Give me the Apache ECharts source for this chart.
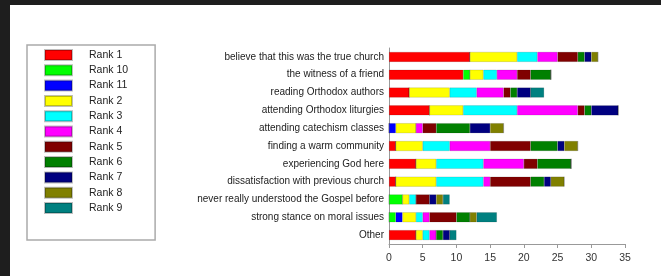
<!DOCTYPE html>
<html><head><meta charset="utf-8">
<script src="https://cdn.jsdelivr.net/npm/echarts@6/dist/echarts.min.js"></script>
<style>html,body{margin:0;padding:0;background:#fff}#c{width:661px;height:276px}</style>
</head><body><div id="c"></div>
<script>
const categories = [
  "believe that this was the true church",
  "the witness of a friend",
  "reading Orthodox authors",
  "attending Orthodox liturgies",
  "attending catechism classes",
  "finding a warm community",
  "experiencing God here",
  "dissatisfaction with previous church",
  "never really understood the Gospel before",
  "strong stance on moral issues",
  "Other"
];
const seriesNames = ["Rank 1","Rank 10","Rank 11","Rank 2","Rank 3","Rank 4","Rank 5","Rank 6","Rank 7","Rank 8","Rank 9"];
const seriesColors = ["#ff0000","#00ff00","#0000ff","#ffff00","#00ffff","#ff00ff","#800000","#008000","#000080","#808000","#008080"];
// values per category, in series order
const rank1  = [12,11,3,6,0,1,4,1,0,0,4];
const rank10 = [0,1,0,0,0,0,0,0,2,1,0];
const rank11 = [0,0,0,0,1,0,0,0,0,1,0];
const rank2  = [7,2,6,5,3,4,3,6,1,2,1];
const rank3  = [3,2,4,8,0,4,7,7,1,1,1];
const rank4  = [3,3,4,9,1,6,6,1,0,1,1];
const rank5  = [3,2,1,1,2,6,2,6,2,4,0];
const rank6  = [1,3,1,1,5,4,5,2,0,2,1];
const rank7  = [1,0,2,4,3,1,0,1,1,0,1];
const rank8  = [1,0,0,0,2,2,0,2,1,1,0];
const rank9  = [0,0,2,0,0,0,0,0,1,3,1];
const xTicks = {min:0, max:35, interval:5};

const allValues = [rank1,rank10,rank11,rank2,rank3,rank4,rank5,rank6,rank7,rank8,rank9];
const FONT = "Liberation Sans";
const chart = echarts.init(document.getElementById('c'), null, {renderer:'canvas'});
chart.setOption({
  animation:false,
  backgroundColor:'#fff',
  graphic:[
    {type:'rect', shape:{x:0,y:0,width:10,height:276}, style:{fill:'#1e1e1e'}, z:100},
    {type:'rect', shape:{x:0,y:0,width:661,height:5}, style:{fill:'#1e1e1e'}, z:100}
  ],
  legend:{
    orient:'vertical', left:27, top:45,
    padding:[4,27,26,17],
    itemWidth:27, itemHeight:10, itemGap:3.3,
    borderColor:'#aaa', borderWidth:1.5,
    icon:'rect',
    textStyle:{fontFamily:FONT, fontSize:10.5, color:'#222', padding:[0,0,0,12]},
    data:seriesNames
  },
  grid:{left:389, right:36, top:48, bottom:32},
  xAxis:{type:'value', min:xTicks.min, max:xTicks.max, interval:xTicks.interval,
    splitLine:{show:false},
    axisLine:{show:true, lineStyle:{color:'#999'}},
    axisTick:{show:true, length:4, lineStyle:{color:'#999'}},
    axisLabel:{fontFamily:FONT, fontSize:10.5, color:'#333', margin:9}
  },
  yAxis:{type:'category', inverse:true, data:categories,
    axisLine:{show:true, lineStyle:{color:'#999'}},
    axisTick:{show:false},
    axisLabel:{fontFamily:FONT, fontSize:10, color:'#222', margin:5}
  },
  series: seriesNames.map((n,i)=>({
    name:n, type:'bar', stack:'a', barWidth:10,
    itemStyle:{color:seriesColors[i], borderColor:'rgba(0,0,0,0.25)', borderWidth:0.5},
    data:allValues[i]
  }))
});
</script></body></html>
